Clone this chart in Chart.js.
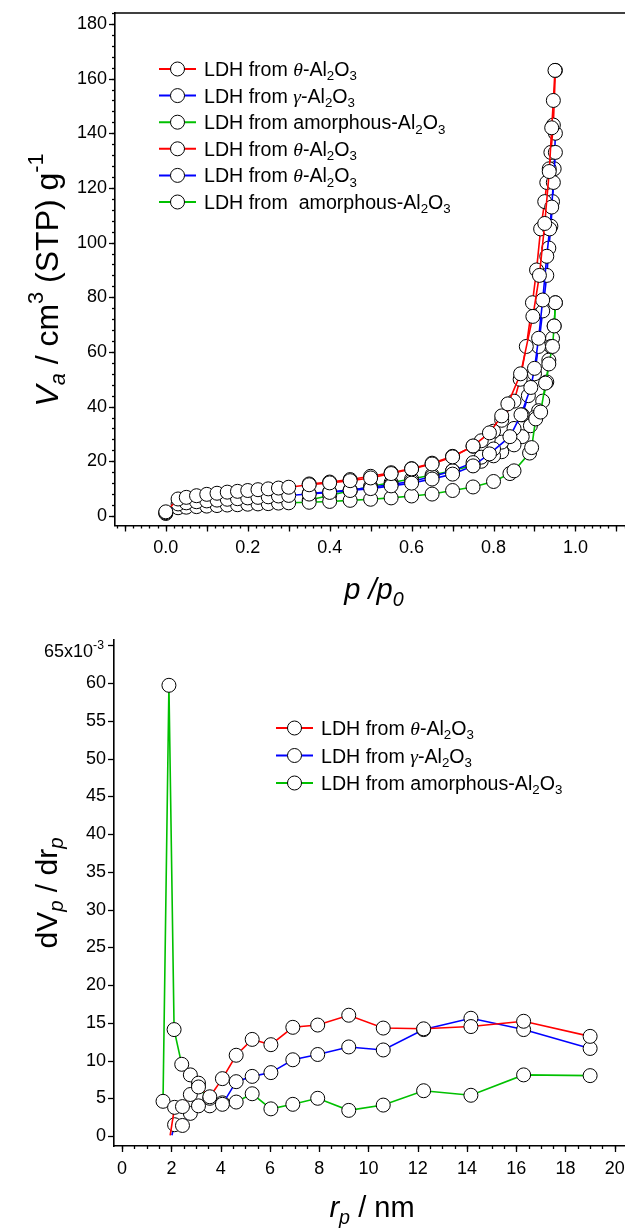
<!DOCTYPE html>
<html>
<head>
<meta charset="utf-8">
<script src="https://cdn.jsdelivr.net/npm/chart.js@4.4.1/dist/chart.umd.min.js"></script>
<style>
  html, body { margin: 0; padding: 0; background: #fff; overflow: hidden; }
  .box { position: absolute; left: 0; width: 640px; }
</style>
</head>
<body>
<div class="box" style="top:0;height:615px"><canvas id="iso"></canvas></div>
<div class="box" style="top:615px;height:613px"><canvas id="psd"></canvas></div>
<script>
// ---- isotherm data (p/p0, Va) ----
const thetaAdsP = [0.0, 0.03, 0.05, 0.075, 0.1, 0.125, 0.15, 0.175, 0.2, 0.225, 0.25, 0.275, 0.3, 0.35, 0.4, 0.45, 0.5, 0.55, 0.6, 0.65, 0.7, 0.75, 0.79, 0.82, 0.835, 0.866, 0.896, 0.912, 0.925, 0.936, 0.942, 0.946, 0.95];
const thetaAdsV = [1.5, 6.2, 6.8, 7.4, 7.9, 8.3, 8.7, 9.0, 9.3, 9.6, 9.9, 10.2, 10.5, 11.4, 12.1, 12.9, 13.9, 15.5, 17.2, 19.0, 21.6, 25.6, 30.4, 36.6, 41, 52, 73, 88, 107, 126, 142, 152, 163];
const gammaAdsP = [0.0, 0.03, 0.05, 0.075, 0.1, 0.125, 0.15, 0.175, 0.2, 0.225, 0.25, 0.275, 0.3, 0.35, 0.4, 0.45, 0.5, 0.55, 0.6, 0.65, 0.7, 0.75, 0.79, 0.84, 0.867, 0.891, 0.9, 0.91, 0.92, 0.93, 0.937, 0.942, 0.946, 0.951];
const gammaAdsV = [1.2, 4.4, 4.8, 5.2, 5.5, 5.8, 6.1, 6.3, 6.6, 6.8, 7.0, 7.3, 7.5, 8.0, 8.6, 9.3, 10.0, 11.0, 12.0, 13.5, 15.3, 18.3, 22.7, 29, 37, 47, 54, 65, 79, 95, 105, 113, 122, 133];
const amorphAdsP = [0.0, 0.03, 0.05, 0.075, 0.1, 0.125, 0.15, 0.175, 0.2, 0.225, 0.25, 0.275, 0.3, 0.35, 0.4, 0.45, 0.5, 0.55, 0.6, 0.65, 0.7, 0.75, 0.8, 0.84, 0.85, 0.888, 0.893, 0.903, 0.915, 0.927, 0.935, 0.944, 0.948, 0.951];
const amorphAdsV = [0.9, 3.0, 3.2, 3.4, 3.6, 3.8, 4.0, 4.1, 4.3, 4.4, 4.5, 4.7, 4.8, 5.0, 5.3, 5.7, 6.1, 6.6, 7.3, 8.0, 9.3, 10.6, 12.6, 15.5, 16.5, 23, 25, 35.5, 38, 48.6, 55.6, 62, 69.5, 78];
const thetaDesP = [0.951, 0.946, 0.94, 0.936, 0.93, 0.925, 0.915, 0.905, 0.895, 0.88, 0.865, 0.85, 0.82, 0.8, 0.77, 0.75, 0.7, 0.65, 0.6, 0.55, 0.5, 0.45, 0.4, 0.35];
const thetaDesV = [163, 143, 133, 127, 122, 115, 105, 90, 78, 62, 50, 42, 35, 31, 27.5, 25.5, 21.8, 19.3, 17.3, 15.8, 14.5, 13.3, 12.4, 11.7];
const gammaDesP = [0.951, 0.948, 0.944, 0.94, 0.935, 0.93, 0.92, 0.91, 0.9, 0.885, 0.87, 0.85, 0.82, 0.8, 0.77, 0.75, 0.7, 0.65, 0.6, 0.55, 0.5, 0.45, 0.4, 0.35];
const gammaDesV = [140, 127, 115, 106, 98, 88, 75, 62, 52, 44, 37, 32, 27, 24.5, 21.5, 19.5, 16.5, 14.3, 12.7, 11.5, 10.5, 9.5, 8.8, 8.2];
const amorphDesP = [0.951, 0.948, 0.944, 0.94, 0.935, 0.93, 0.92, 0.91, 0.9, 0.89, 0.87, 0.85, 0.82, 0.8, 0.77, 0.75, 0.7, 0.65, 0.6, 0.55, 0.5, 0.45, 0.4, 0.35];
const amorphDesV = [78, 69.5, 65, 62, 57, 49, 42, 38.5, 36, 33, 29, 26, 23.5, 22, 20, 18.5, 16.5, 15, 13.5, 12.2, 10.8, 9.2, 7.5, 5.8];
const isoLabels = ['LDH from θ-Al2O3', 'LDH from γ-Al2O3', 'LDH from amorphous-Al2O3',
                   'LDH from θ-Al2O3', 'LDH from θ-Al2O3', 'LDH from  amorphous-Al2O3'];
const isoXTicks = [0, 0.2, 0.4, 0.6, 0.8, 1.0];
const isoYTicks = [0, 20, 40, 60, 80, 100, 120, 140, 160, 180];

// ---- pore size distribution (rp / nm, dVp/drp x1e-3) ----
const rTheta = [1.95, 2.13, 2.45, 2.77, 3.1, 3.56, 4.07, 4.63, 5.28, 6.04, 6.93, 7.94, 9.2, 10.6, 12.24, 14.16, 16.3, 19.0];
const dvTheta = [0.1, 3.8, 3.9, 5.5, 6.5, 5.2, 7.6, 10.7, 12.8, 12.1, 14.4, 14.7, 16.0, 14.3, 14.2, 14.5, 15.2, 13.2];
const rGamma = [2.02, 2.13, 2.45, 2.77, 3.1, 3.56, 4.07, 4.63, 5.28, 6.04, 6.93, 7.94, 9.2, 10.6, 12.24, 14.16, 16.3, 19.0];
const dvGamma = [0.1, 1.5, 1.4, 3.0, 4.0, 5.0, 4.2, 7.2, 7.9, 8.4, 10.1, 10.8, 11.8, 11.4, 14.1, 15.6, 14.1, 11.6];
const rAmorph = [1.66, 1.9, 2.11, 2.42, 2.77, 3.1, 3.56, 4.07, 4.63, 5.28, 6.04, 6.93, 7.94, 9.2, 10.6, 12.24, 14.16, 16.3, 19.0];
const dvAmorph = [4.6, 59.7, 14.1, 9.5, 8.1, 7.0, 4.0, 4.4, 4.5, 5.6, 3.6, 4.2, 5.0, 3.4, 4.1, 6.0, 5.4, 8.1, 8.0];
const psdLabels = ['LDH from θ-Al2O3', 'LDH from γ-Al2O3', 'LDH from amorphous-Al2O3'];
const psdXTicks = [0, 2, 4, 6, 8, 10, 12, 14, 16, 18, 20];
const psdYTicks = [0, 5, 10, 15, 20, 25, 30, 35, 40, 45, 50, 55, 60, 65];

const RED = '#ff0000', BLUE = '#0000ff', GREEN = '#00c000';
const FONT = "'Liberation Sans', Arial, sans-serif";

function pts(xs, ys) { return xs.map((x, i) => ({ x: x, y: ys[i] })); }

// rich text: runs of {t, i (italic), sub, sup, greek}
function runFont(r, S) {
  const sz = (r.sub || r.sup) ? S * 0.68 : S;
  const fam = r.greek ? "'Liberation Serif', serif" : FONT;
  return ((r.i || r.greek) ? 'italic ' : '') + sz + 'px ' + fam;
}
function runsWidth(ctx, runs, S) {
  let w = 0;
  runs.forEach(r => { ctx.font = runFont(r, S); w += ctx.measureText(r.t).width; });
  return w;
}
function drawRuns(ctx, runs, S, x, base) {
  runs.forEach(r => {
    ctx.font = runFont(r, S);
    const dy = r.sub ? S * 0.22 : (r.sup ? -S * 0.45 : 0);
    ctx.fillText(r.t, x, base + dy);
    x += ctx.measureText(r.t).width;
  });
}
function labelRuns(str) {
  const runs = [];
  let prev = '';
  for (const ch of str) {
    let r;
    if (ch === 'θ' || ch === 'γ') r = { t: ch, greek: true };
    else if (/\d/.test(ch) && /[A-Za-z]/.test(prev)) r = { t: ch, sub: true };
    else r = { t: ch };
    const last = runs[runs.length - 1];
    if (last && !!last.sub === !!r.sub && !!last.greek === !!r.greek) last.t += r.t;
    else runs.push(r);
    prev = ch;
  }
  return runs;
}

// outward tick marks + optional top frame line
const tickMarks = {
  id: 'tickMarks',
  afterDraw(chart, args, o) {
    const ctx = chart.ctx, a = chart.chartArea, xs = chart.scales.x, ys = chart.scales.y;
    ctx.save();
    ctx.strokeStyle = '#000';
    ctx.lineWidth = 1.3;
    (o.x || []).forEach(([step, len]) => {
      for (let k = Math.ceil(xs.min / step - 1e-9); k * step <= xs.max + 1e-9; k++) {
        const px = Math.round(xs.getPixelForValue(k * step)) + 0.5;
        ctx.beginPath(); ctx.moveTo(px, a.bottom); ctx.lineTo(px, a.bottom + len); ctx.stroke();
      }
    });
    (o.y || []).forEach(([step, len]) => {
      for (let k = Math.ceil(ys.min / step - 1e-9); k * step <= ys.max + 1e-9; k++) {
        const py = Math.round(ys.getPixelForValue(k * step)) + 0.5;
        ctx.beginPath(); ctx.moveTo(a.left, py); ctx.lineTo(a.left - len, py); ctx.stroke();
      }
    });
    if (o.top) {
      ctx.lineWidth = 1.6;
      ctx.beginPath(); ctx.moveTo(a.left, a.top); ctx.lineTo(a.right, a.top); ctx.stroke();
    }
    ctx.restore();
  }
};

// axis titles and extra labels
const richText = {
  id: 'richText',
  afterDraw(chart, args, o) {
    const ctx = chart.ctx;
    ctx.save();
    ctx.fillStyle = '#000';
    ctx.textBaseline = 'alphabetic';
    (o.items || []).forEach(it => {
      const S = it.size;
      const w = runsWidth(ctx, it.runs, S);
      let x = it.x, y = it.y;
      if (it.valueY !== undefined) y = chart.scales.y.getPixelForValue(it.valueY);
      ctx.save();
      ctx.translate(x, y);
      if (it.rot) ctx.rotate(-Math.PI / 2);
      const x0 = it.align === 'right' ? -w : -w / 2;
      drawRuns(ctx, it.runs, S, x0, S * 0.36);
      ctx.restore();
    });
    ctx.restore();
  }
};

// legend: line + open circle + rich label
const lineLegend = {
  id: 'lineLegend',
  afterDraw(chart, args, o) {
    const ctx = chart.ctx;
    ctx.save();
    chart.data.datasets.forEach((ds, i) => {
      const y = o.y + i * o.gap;
      ctx.strokeStyle = ds.borderColor;
      ctx.lineWidth = 2;
      ctx.beginPath(); ctx.moveTo(o.x, y); ctx.lineTo(o.x + o.len, y); ctx.stroke();
      ctx.beginPath(); ctx.arc(o.x + o.len / 2, y, 7, 0, Math.PI * 2);
      ctx.fillStyle = '#fff'; ctx.fill();
      ctx.strokeStyle = '#000'; ctx.lineWidth = 1; ctx.stroke();
      ctx.fillStyle = '#000';
      ctx.textBaseline = 'alphabetic';
      drawRuns(ctx, labelRuns(ds.label), o.size, o.textX, y + o.size * 0.36);
    });
    ctx.restore();
  }
};

function series(label, data, color) {
  return {
    label: label, data: data, showLine: true, tension: 0,
    borderColor: color, borderWidth: 1.6,
    pointRadius: c => (c.raw && c.raw.y < 0.5 && c.dataIndex === 0 && c.raw.x > 1) ? 0 : 7,
    pointBackgroundColor: '#fff', pointBorderColor: '#000', pointBorderWidth: 1
  };
}

function axes(xMin, xMax, yMin, yMax, xTicks, yTicks, xFmt, yFmt, yWidth, xHeight) {
  const tickFont = { family: FONT, size: 18 };
  return {
    x: {
      type: 'linear', min: xMin, max: xMax,
      afterBuildTicks: s => { s.ticks = xTicks.map(v => ({ value: v })); },
      afterFit: s => { s.height = xHeight; s.paddingLeft = 0; s.paddingRight = 0; },
      ticks: { color: '#000', font: tickFont, padding: 12, maxRotation: 0, autoSkip: false, callback: xFmt },
      grid: { display: false, drawTicks: false },
      border: { display: true, color: '#000', width: 1.6 }
    },
    y: {
      type: 'linear', min: yMin, max: yMax,
      afterBuildTicks: s => { s.ticks = yTicks.map(v => ({ value: v })); },
      afterFit: s => { s.width = yWidth; s.paddingTop = 0; s.paddingBottom = 0; },
      ticks: { color: '#000', font: tickFont, padding: 8, autoSkip: false, callback: yFmt },
      grid: { display: false, drawTicks: false },
      border: { display: true, color: '#000', width: 1.6 }
    }
  };
}

Chart.defaults.font.family = FONT;

new Chart(document.getElementById('iso'), {
  type: 'scatter',
  data: {
    datasets: [
      series(isoLabels[0], pts(thetaAdsP, thetaAdsV), RED),
      series(isoLabels[1], pts(gammaAdsP, gammaAdsV), BLUE),
      series(isoLabels[2], pts(amorphAdsP, amorphAdsV), GREEN),
      series(isoLabels[3], pts(thetaDesP, thetaDesV), RED),
      series(isoLabels[4], pts(gammaDesP, gammaDesV), BLUE),
      series(isoLabels[5], pts(amorphDesP, amorphDesV), GREEN)
    ]
  },
  options: {
    animation: false, responsive: true, maintainAspectRatio: false, devicePixelRatio: 1,
    events: [],
    layout: { padding: { top: 13, right: 5, left: 0, bottom: 0 } },
    scales: axes(-0.124, 1.138, -3.5, 184, isoXTicks, isoYTicks,
                 v => v.toFixed(1), v => String(v), 115, 89.5),
    plugins: {
      legend: { display: false },
      tooltip: { enabled: false },
      tickMarks: { x: [[0.1, 6], [0.02, 3]], y: [[20, 6], [4, 3]], top: true },
      lineLegend: { x: 159, y: 69, gap: 26.6, len: 37, textX: 204, size: 19.6 },
      richText: {
        items: [
          { x: 46, y: 280, rot: true, size: 32,
            runs: [{ t: 'V', i: 1 }, { t: 'a', i: 1, sub: 1 }, { t: ' / cm' }, { t: '3', sup: 1 }, { t: ' (STP) g' }, { t: '-1', sup: 1 }] },
          { x: 374, y: 589, size: 29,
            runs: [{ t: 'p /p', i: 1 }, { t: '0', i: 1, sub: 1 }] }
        ]
      }
    }
  },
  plugins: [tickMarks, lineLegend, richText]
});

new Chart(document.getElementById('psd'), {
  type: 'scatter',
  data: {
    datasets: [
      series(psdLabels[0], pts(rTheta, dvTheta), RED),
      series(psdLabels[1], pts(rGamma, dvGamma), BLUE),
      series(psdLabels[2], pts(rAmorph, dvAmorph), GREEN)
    ]
  },
  options: {
    animation: false, responsive: true, maintainAspectRatio: false, devicePixelRatio: 1,
    events: [],
    layout: { padding: { top: 25, right: 5, left: 0, bottom: 0 } },
    scales: axes(-0.33, 20.7, -1.32, 65.7, psdXTicks, psdYTicks,
                 v => String(v), v => (v === 65 ? '' : String(v)), 114, 82),
    plugins: {
      legend: { display: false },
      tooltip: { enabled: false },
      tickMarks: { x: [[2, 6], [0.5, 3]], y: [[5, 6]] },
      lineLegend: { x: 276, y: 113, gap: 27.5, len: 37, textX: 321, size: 19.6 },
      richText: {
        items: [
          { x: 104, valueY: 64.3, align: 'right', size: 18,
            runs: [{ t: '65x10' }, { t: '-3', sup: 1 }] },
          { x: 46, y: 278, rot: true, size: 30,
            runs: [{ t: 'dV' }, { t: 'p', i: 1, sub: 1 }, { t: ' / dr' }, { t: 'p', i: 1, sub: 1 }] },
          { x: 372, y: 592, size: 29,
            runs: [{ t: 'r', i: 1 }, { t: 'p', i: 1, sub: 1 }, { t: ' / nm' }] }
        ]
      }
    }
  },
  plugins: [tickMarks, lineLegend, richText]
});
</script>
</body>
</html>
